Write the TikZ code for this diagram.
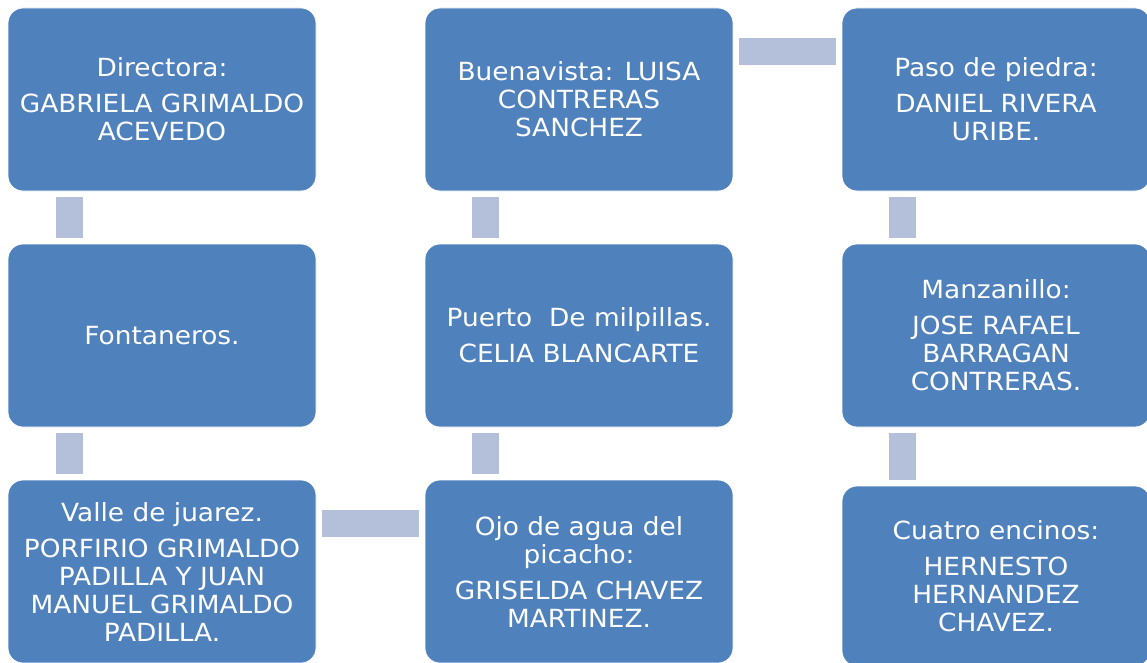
\documentclass[tikz,border=0pt]{standalone}
\usepackage{fontspec}
\setmainfont{DejaVu Sans}[FakeStretch=1.055]
\definecolor{boxblue}{HTML}{4F81BD}
\definecolor{barblue}{HTML}{B4C0DA}
\tikzset{
  box/.style={rectangle, rounded corners=15pt, fill=boxblue, draw=white, line width=0.8pt,
    minimum width=308pt, minimum height=183pt, inner sep=0pt, align=center, text=white,
    font=\fontsize{25}{28}\selectfont},
  bar/.style={draw=barblue, line width=27pt, line cap=butt}
}
\begin{document}
\begin{tikzpicture}[x=1pt,y=-1pt]
\useasboundingbox (0,0) rectangle (1147,663);
\clip (0,0) rectangle (1147,663);
\node[box] (dir) at (162,99.5) {Directora:\\[8pt]GABRIELA GRIMALDO\\ACEVEDO};
\node[box] (fon) at (162,335.5) {Fontaneros.};
\node[box] (val) at (162,571.5) {Valle de juarez.\\[8pt]PORFIRIO GRIMALDO\\PADILLA Y JUAN\\MANUEL GRIMALDO\\PADILLA.};
\node[box] (bue) at (579,99.5) {Buenavista: LUISA\\CONTRERAS\\SANCHEZ};
\node[box] (pue) at (579,335.5) {Puerto~ De milpillas.\\[8pt]CELIA BLANCARTE};
\node[box] (ojo) at (579,571.5) {Ojo de agua del\\picacho:\\[8pt]GRISELDA CHAVEZ\\MARTINEZ.};
\node[box] (pas) at (996,99.5) {Paso de piedra:\\[8pt]DANIEL RIVERA\\URIBE.};
\node[box] (man) at (996,335.5) {Manzanillo:\\[8pt]JOSE RAFAEL\\BARRAGAN\\CONTRERAS.};
\node[box, minimum height=180pt] (cua) at (996,576) {Cuatro encinos:\\[8pt]HERNESTO\\HERNANDEZ\\CHAVEZ.};
% vertical bars
\draw[bar] ([xshift=-92.5pt,yshift=-6pt]dir.south) -- ([xshift=-92.5pt,yshift=6pt]fon.north);
\draw[bar] ([xshift=-92.5pt,yshift=-6pt]fon.south) -- ([xshift=-92.5pt,yshift=6pt]val.north);
\draw[bar] ([xshift=-93.5pt,yshift=-6pt]bue.south) -- ([xshift=-93.5pt,yshift=6pt]pue.north);
\draw[bar] ([xshift=-93.5pt,yshift=-6pt]pue.south) -- ([xshift=-93.5pt,yshift=6pt]ojo.north);
\draw[bar] ([xshift=-93.5pt,yshift=-6pt]pas.south) -- ([xshift=-93.5pt,yshift=6pt]man.north);
\draw[bar] ([xshift=-93.5pt,yshift=-6pt]man.south) -- ([xshift=-93.5pt,yshift=6pt]cua.north);
% horizontal bars
\draw[bar] ([xshift=6pt,yshift=48pt]bue.east) -- ([xshift=-6pt,yshift=48pt]pas.west);
\draw[bar] ([xshift=6pt,yshift=48pt]val.east) -- ([xshift=-6pt,yshift=48pt]ojo.west);
\end{tikzpicture}
\end{document}
